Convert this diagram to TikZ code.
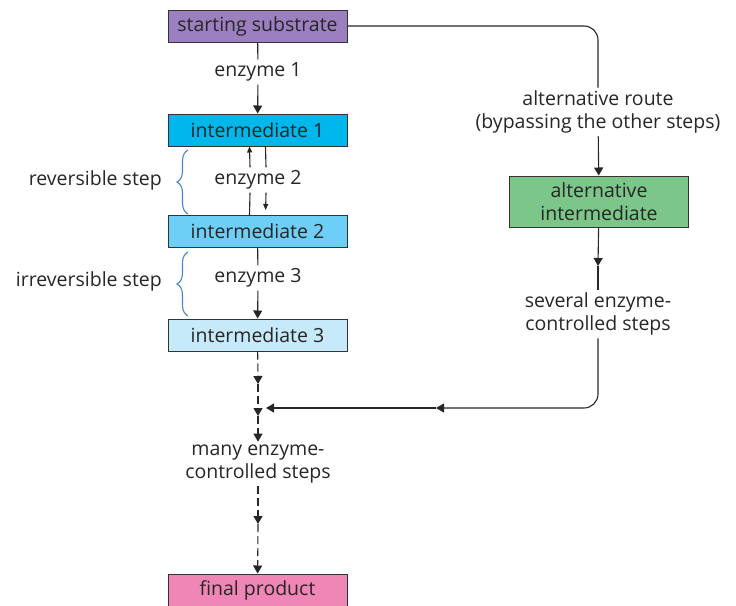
\documentclass[tikz,border=0pt]{standalone}
\usepackage{fontspec}
\setmainfont{Open Sans}
\usetikzlibrary{arrows.meta,decorations.pathreplacing}

\definecolor{subpurple}{HTML}{9B7FC0}
\definecolor{intone}{HTML}{00B7EB}
\definecolor{inttwo}{HTML}{6DCFF6}
\definecolor{intthree}{HTML}{C7EAFB}
\definecolor{altgreen}{HTML}{7DC68A}
\definecolor{finpink}{HTML}{F086B5}
\definecolor{bracecol}{HTML}{4A86C5}

\tikzset{
  box/.style={draw=black!80, line width=1pt, minimum width=179pt, minimum height=32pt,
    inner sep=0pt, align=center, text=black!85, font=\fontsize{19.5}{23}\selectfont},
  lbl/.style={align=center, inner sep=3pt, text=black!85, font=\fontsize{19.5}{23}\selectfont},
  conn/.style={draw=black!85, line width=1.1pt},
  tip/.style={-{Triangle[length=8pt,width=9pt]}},
  smalltip/.style={-{Triangle[length=6pt,width=5pt]}},
  dashline/.style={dash pattern=on 8pt off 4pt},
  bracket/.style={draw=bracecol, line width=1.1pt, decorate, decoration={brace,amplitude=11pt}}
}

\begin{document}
\begin{tikzpicture}[x=1pt,y=-1pt]
\useasboundingbox (0,0) rectangle (736,605);

% main chain
\node [box,fill=subpurple] (sub) at (257.5,26) {starting substrate};
\node [box,fill=intone] (int1) at (257.5,130) {intermediate 1};
\node [box,fill=inttwo] (int2) at (257.5,231.5) {intermediate 2};
\node [box,fill=intthree] (int3) at (257.5,335) {intermediate 3};
\node [box,fill=finpink] (fin) at (257.5,590) {final product};

% alternative route
\node [box,fill=altgreen,minimum height=51pt] (alt) at (599,201.5) {alternative\\intermediate};

\node [lbl] (e1) at (258,72) {enzyme 1};
\node [lbl] (e2) at (258,180) {enzyme 2};
\node [lbl] (e3) at (258,278) {enzyme 3};
\node [lbl] (many) at (258,464) {many enzyme-\\controlled steps};
\node [lbl] (route) at (598,112) {alternative route\\(bypassing the other steps)};
\node [lbl] (several) at (598,314) {several enzyme-\\controlled steps};
\node [lbl,anchor=east] (rev) at (165,180) {reversible step};
\node [lbl,anchor=east] (irrev) at (165,281) {irreversible step};

\coordinate (d1) at (258,384);
\coordinate (d2) at (258,416);
\coordinate (d3) at (258,524);
\coordinate (a1) at (598,266);
\coordinate (j1) at (436,408);
\coordinate (j2) at (266,408);

% steps
\draw [conn] (sub) -- (e1);
\draw [conn,tip] (e1) -- (int1);
\draw [conn] ([xshift=-8pt]int2.north) -- ([xshift=-8pt]e2.south);
\draw [conn,smalltip] ([xshift=-8pt]e2.north) -- ([xshift=-8pt]int1.south);
\draw [conn] ([xshift=8pt]int1.south) -- ([xshift=8pt]e2.north);
\draw [conn,smalltip,shorten >=5pt] ([xshift=8pt]e2.south) -- ([xshift=8pt]int2.north);
\draw [conn] (int2) -- (e3);
\draw [conn,tip] (e3) -- (int3);
\draw [conn,dashline,tip] (int3) -- (d1);
\draw [conn,dashline,tip] (d1) -- (d2);
\draw [conn,dashline,tip] (d2) -- (many);
\draw [conn,dashline,tip] (many) -- (d3);
\draw [conn,dashline,tip] (d3) -- (fin);

\draw [conn,rounded corners=14pt] (sub.east) -| (route.north);
\draw [conn,tip] (route) -- (alt);
\draw [conn,tip] (alt) -- (a1);
\draw [conn] (a1) -- (several);
\draw [conn,tip,rounded corners=14pt] (several.south) |- (j1);
\draw [conn,tip] (j1) -- (j2);

% braces
\draw [bracket] (188,214) -- (188,150);
\draw [bracket] (188,316) -- (188,252);
\end{tikzpicture}
\end{document}
